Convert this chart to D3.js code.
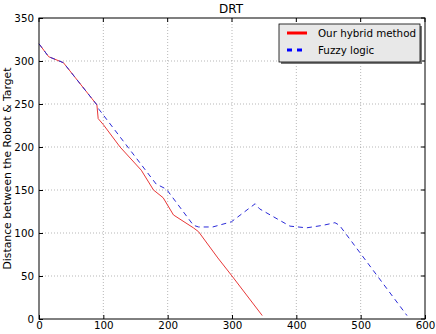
<!DOCTYPE html>
<html><head><meta charset="utf-8">
<script src="https://cdn.jsdelivr.net/npm/d3@7"></script>
<style>body{margin:0;background:#fff}text{font-family:"DejaVu Sans",sans-serif}</style>
</head><body><svg id="c" width="436" height="334"></svg>
<script>
const hybridX = [0,15,38,90,92,100,126,159,178,193,209,240,248,278,300,347];
const hybridY = [320,305,298,249,233,226,200,173,150,141,121,106,101.5,71,50,4];
const fuzzyX = [0,15,38,90,93,182,198,240,248,270,299,336,343,390,416,442,460,467,501,572];
const fuzzyY = [320,305,298,249,244,157,151,109,107,107,113,134,128,108,106,109,112,109,75,4];
const xTicks = [0,100,200,300,400,500,600];
const yTicks = [0,50,100,150,200,250,300,350];
const seriesNames = ["Our hybrid method","Fuzzy logic"];

const svg = d3.select("#c");
const L=39,R=425,T=18,B=319;
const x = d3.scaleLinear().domain([0,600]).range([L,R]);
const y = d3.scaleLinear().domain([0,350]).range([B,T]);

const g = svg.append("g");
g.selectAll(".gx").data(xTicks.slice(1,-1)).join("line")
 .attr("x1",d=>x(d)).attr("x2",d=>x(d)).attr("y1",T).attr("y2",B)
 .attr("stroke","#888").attr("stroke-width",0.6).attr("stroke-dasharray","1,2");
g.selectAll(".gy").data(yTicks.slice(1,-1)).join("line")
 .attr("y1",d=>y(d)).attr("y2",d=>y(d)).attr("x1",L).attr("x2",R)
 .attr("stroke","#888").attr("stroke-width",0.6).attr("stroke-dasharray","1,2");

const ax = svg.append("g").attr("transform",`translate(0,${B})`)
 .call(d3.axisBottom(x).tickValues(xTicks).tickSize(-4).tickPadding(3).tickFormat(d3.format("d")));
const ay = svg.append("g").attr("transform",`translate(${L},0)`)
 .call(d3.axisLeft(y).tickValues(yTicks).tickSize(-4).tickPadding(5).tickFormat(d3.format("d")));
[ax,ay].forEach(a=>{a.select(".domain").remove();a.selectAll("text").attr("font-size",10.3).attr("font-family","DejaVu Sans").attr("fill","#000");});
ax.selectAll("text").attr("dy","0.65em");
svg.append("g").selectAll("line").data(xTicks).join("line")
 .attr("x1",d=>x(d)).attr("x2",d=>x(d)).attr("y1",T).attr("y2",T+4).attr("stroke","#000");
svg.append("g").selectAll("line").data(yTicks).join("line")
 .attr("y1",d=>y(d)).attr("y2",d=>y(d)).attr("x1",R).attr("x2",R-4).attr("stroke","#000");

const line = d3.line().x(d=>x(d[0])).y(d=>y(d[1]));
svg.append("path").datum(hybridX.map((v,i)=>[v,hybridY[i]]))
 .attr("d",line).attr("fill","none").attr("stroke","#e83838").attr("stroke-width",1);
svg.append("path").datum(fuzzyX.map((v,i)=>[v,fuzzyY[i]]))
 .attr("d",line).attr("fill","none").attr("stroke","#2a2ad8").attr("stroke-width",1).attr("stroke-dasharray","5,4");

svg.append("rect").attr("x",L).attr("y",T).attr("width",R-L).attr("height",B-T)
 .attr("fill","none").attr("stroke","#000").attr("stroke-width",1);

svg.append("text").attr("x",231).attr("y",13).attr("text-anchor","middle").attr("font-size",12).text("DRT");
svg.append("text").attr("transform",`translate(11,${(T+B)/2}) rotate(-90)`).attr("text-anchor","middle")
 .attr("font-size",10.8).text("Distance between the Robot & Target");

const lg = svg.append("g");
lg.append("rect").attr("x",281).attr("y",26).attr("width",141).attr("height",38).attr("fill","#777");
lg.append("rect").attr("x",279).attr("y",24).attr("width",141).attr("height",38).attr("fill","#e8e8e8").attr("stroke","#000").attr("stroke-width",0.8);
const styles=[{c:"#ff0000",d:null},{c:"#0000ff",d:"5,5"}];
seriesNames.forEach((n,i)=>{
  const yy = 33+i*17;
  lg.append("line").attr("x1",287).attr("x2",307).attr("y1",yy).attr("y2",yy)
   .attr("stroke",styles[i].c).attr("stroke-width",3).attr("stroke-dasharray",styles[i].d);
  lg.append("text").attr("x",318).attr("y",yy+4).attr("font-size",10.3).text(n);
});
</script></body></html>
